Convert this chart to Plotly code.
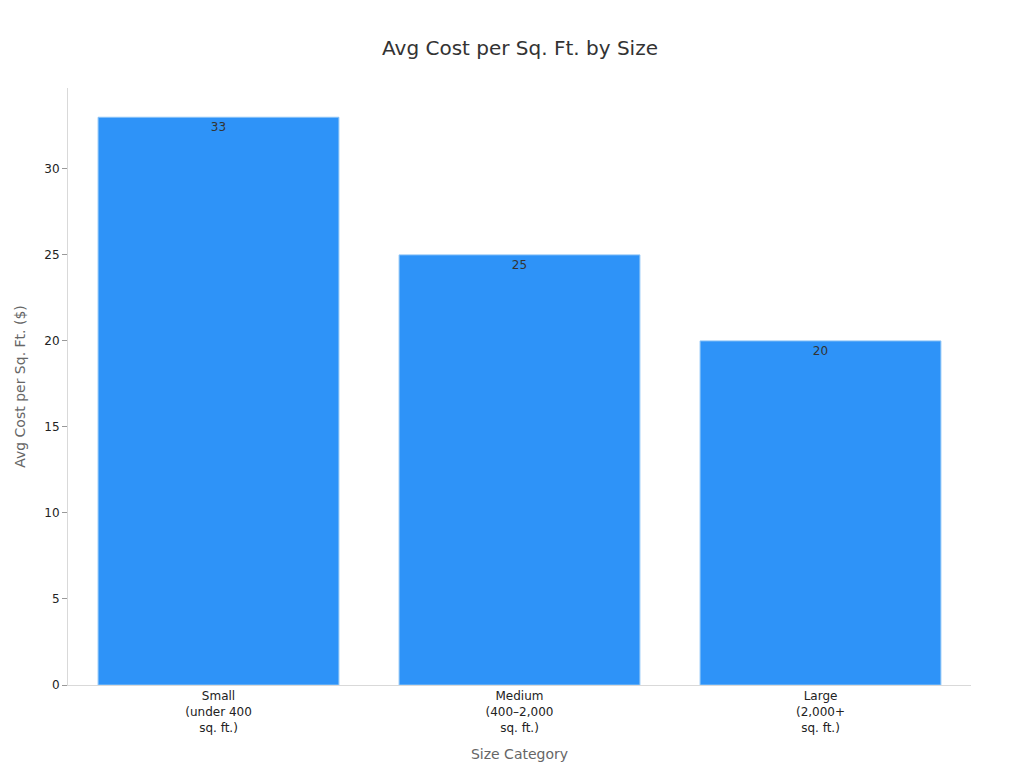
import plotly.graph_objects as go

categories = ["Small<br>(under 400<br>sq. ft.)", "Medium<br>(400–2,000<br>sq. ft.)", "Large<br>(2,000+<br>sq. ft.)"]
values = [33, 25, 20]

fig = go.Figure(go.Bar(
    x=categories, y=values, text=values, textposition="inside",
    insidetextanchor="end", textfont=dict(color="#333333", size=12),
    marker=dict(color="#2E93F8", line=dict(color="#8cc4f7", width=1)),
    width=0.8,
))
fig.update_layout(
    width=1024, height=768,
    font=dict(family="DejaVu Sans", color="#222222", size=12),
    title=dict(text="Avg Cost per Sq. Ft. by Size", x=0.5, y=0.957, font=dict(size=20, color="#333333")),
    plot_bgcolor="white", paper_bgcolor="white",
    margin=dict(l=60, r=61, t=80, b=91),
    showlegend=False,
    xaxis=dict(title=dict(text="Size Category", font=dict(size=14, color="#666666")),
               showline=True, linecolor="#d9d9d9", tickfont=dict(size=12)),
    yaxis=dict(title=dict(text="Avg Cost per Sq. Ft. ($)", font=dict(size=14, color="#666666")),
               range=[0, 34.7], dtick=5, showgrid=False, zeroline=False,
               showline=True, linecolor="#d9d9d9", ticks="outside", ticklen=5, tickcolor="#999999"),
)
fig.write_html("out.html")
